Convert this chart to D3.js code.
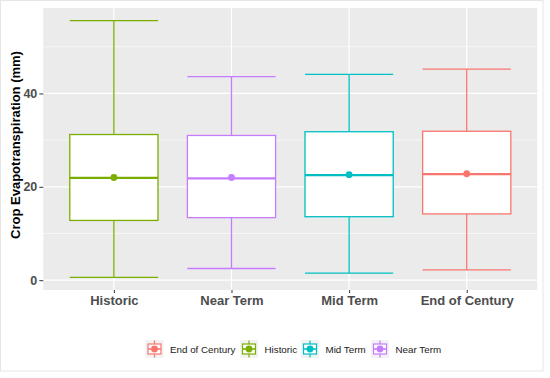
<!DOCTYPE html>
<html><head><meta charset="utf-8">
<script src="https://cdn.jsdelivr.net/npm/d3@7"></script>
<style>body{margin:0;background:#fff}svg{display:block}</style>
</head><body>
<svg id="chart" width="550" height="378"></svg>
<script>
const categories = ["Historic", "Near Term", "Mid Term", "End of Century"];
const whiskerLow  = [0.6, 2.5, 1.5, 2.2];
const q1          = [12.8, 13.4, 13.6, 14.2];
const median      = [21.9, 21.8, 22.5, 22.7];
const q3          = [31.2, 31.0, 31.8, 31.9];
const whiskerHigh = [55.6, 43.6, 44.1, 45.2];
const means       = [22.0, 22.0, 22.6, 22.8];
const colors      = ["#7CAE00", "#C77CFF", "#00BFC4", "#F8766D"];
const yTicks      = [0, 20, 40];
const yMinor      = [10, 30, 50];
const legendOrder = ["End of Century", "Historic", "Mid Term", "Near Term"];
const yTitle      = "Crop Evapotranspiration (mm)";

const FONT = "'Liberation Sans', Arial, sans-serif";
const svg = d3.select("#chart");
const P = {left: 43.3, right: 537.3, top: 8, bottom: 290};

// outer figure border
svg.append("rect").attr("x", 0.5).attr("y", 0.5).attr("width", 542.5).attr("height", 370.5)
  .attr("fill", "#fff").attr("stroke", "#E6E6E6");

// discrete x scale with ggplot-like expansion (0.6 of a step on each side)
const step = (P.right - P.left) / (categories.length - 1 + 1.2);
const x = d3.scalePoint().domain(categories)
  .range([P.left + 0.6 * step, P.right - 0.6 * step]);
const y = d3.scaleLinear().domain([-2.1, 58.3]).range([P.bottom, P.top]);

svg.append("rect").attr("x", P.left).attr("y", P.top).attr("width", P.right - P.left)
  .attr("height", P.bottom - P.top).attr("fill", "#EBEBEB");

const grid = svg.append("g");
yMinor.forEach(v => grid.append("line").attr("x1", P.left).attr("x2", P.right)
  .attr("y1", y(v)).attr("y2", y(v)).attr("stroke", "#fff").attr("stroke-width", 0.6));
yTicks.forEach(v => grid.append("line").attr("x1", P.left).attr("x2", P.right)
  .attr("y1", y(v)).attr("y2", y(v)).attr("stroke", "#fff").attr("stroke-width", 1.2));
categories.forEach(c => grid.append("line").attr("x1", x(c)).attr("x2", x(c))
  .attr("y1", P.top).attr("y2", P.bottom).attr("stroke", "#fff").attr("stroke-width", 1.2));

// y axis
const yAxis = d3.axisLeft(y).tickValues(yTicks).tickSize(4).tickPadding(2);
const ya = svg.append("g").attr("transform", `translate(${P.left},0)`).call(yAxis);
ya.select(".domain").remove();
ya.selectAll(".tick line").attr("stroke", "#333").attr("stroke-width", 1);
ya.selectAll(".tick text").attr("fill", "#4D4D4D").attr("font-family", FONT)
  .attr("font-size", 12.5).attr("font-weight", "bold");

// x axis
const xAxis = d3.axisBottom(x).tickSize(3).tickPadding(3);
const xa = svg.append("g").attr("transform", `translate(0,${P.bottom})`).call(xAxis);
xa.select(".domain").remove();
xa.selectAll(".tick line").attr("stroke", "#333");
xa.selectAll(".tick text").attr("fill", "#4D4D4D").attr("font-family", FONT)
  .attr("font-size", 13).attr("font-weight", "bold");

svg.append("text").attr("transform", `translate(20,145) rotate(-90)`)
  .attr("text-anchor", "middle").attr("font-family", FONT)
  .attr("font-size", 13).attr("font-weight", "bold").attr("fill", "#000").text(yTitle);

// boxes
const bw = step * 0.75;
categories.forEach((c, i) => {
  const g = svg.append("g");
  const cx = x(c), col = colors[i];
  g.append("line").attr("x1", cx).attr("x2", cx).attr("y1", y(q3[i])).attr("y2", y(whiskerHigh[i]))
    .attr("stroke", col).attr("stroke-width", 1.3);
  g.append("line").attr("x1", cx).attr("x2", cx).attr("y1", y(q1[i])).attr("y2", y(whiskerLow[i]))
    .attr("stroke", col).attr("stroke-width", 1.3);
  [whiskerHigh[i], whiskerLow[i]].forEach(v => g.append("line")
    .attr("x1", cx - bw / 2).attr("x2", cx + bw / 2).attr("y1", y(v)).attr("y2", y(v))
    .attr("stroke", col).attr("stroke-width", 1.3));
  g.append("rect").attr("x", cx - bw / 2).attr("y", y(q3[i])).attr("width", bw)
    .attr("height", y(q1[i]) - y(q3[i])).attr("fill", "#fff").attr("stroke", col).attr("stroke-width", 1.3);
  g.append("line").attr("x1", cx - bw / 2).attr("x2", cx + bw / 2).attr("y1", y(median[i])).attr("y2", y(median[i]))
    .attr("stroke", col).attr("stroke-width", 2.3);
  g.append("circle").attr("cx", cx).attr("cy", y(means[i])).attr("r", 3.4).attr("fill", col);
});

// legend
const legX = [154.5, 249, 310, 380];
const legY = 349;
legendOrder.forEach((name, k) => {
  const col = colors[categories.indexOf(name)];
  const cx = legX[k];
  const g = svg.append("g");
  g.append("rect").attr("x", cx - 9).attr("y", legY - 9).attr("width", 18).attr("height", 18).attr("fill", "#F2F2F2");
  g.append("line").attr("x1", cx).attr("x2", cx).attr("y1", legY - 8.5).attr("y2", legY + 8.5)
    .attr("stroke", col).attr("stroke-width", 1.2);
  g.append("rect").attr("x", cx - 6.5).attr("y", legY - 5).attr("width", 13).attr("height", 10)
    .attr("fill", "#fff").attr("stroke", col).attr("stroke-width", 1.2);
  g.append("line").attr("x1", cx - 6.5).attr("x2", cx + 6.5).attr("y1", legY).attr("y2", legY)
    .attr("stroke", col).attr("stroke-width", 1.6);
  g.append("circle").attr("cx", cx).attr("cy", legY).attr("r", 3.4).attr("fill", col);
  g.append("text").attr("x", cx + 15.5).attr("y", legY + 3.5).attr("font-family", FONT)
    .attr("font-size", 9.8).attr("fill", "#1A1A1A").text(name);
});
</script>
</body></html>
